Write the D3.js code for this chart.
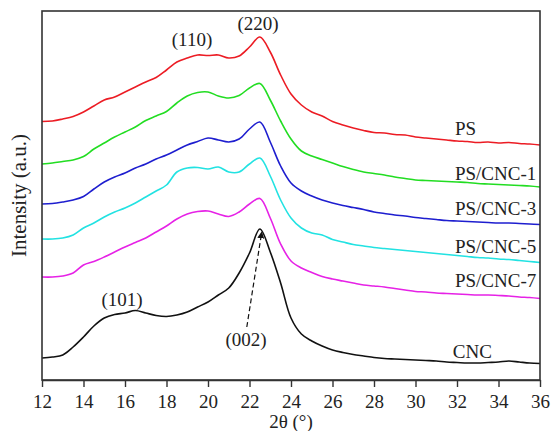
<!DOCTYPE html>
<html>
<head>
<meta charset="utf-8">
<script src="https://cdn.jsdelivr.net/npm/d3@7"></script>
<style>
  html, body { margin: 0; padding: 0; background: #fff; }
  svg { display: block; }
  text { font-family: "Liberation Serif", "Times New Roman", serif; fill: #222; }
</style>
</head>
<body>
<svg id="chart" width="553" height="431"></svg>
<script>
// 2θ values (°)
const twoTheta = d3.range(12, 36.001, 0.5);

// Intensities (a.u., stacked/offset as in the figure)
const PS = [258.5, 259, 261, 263.5, 268, 274, 280, 283, 288, 293, 298, 302.5, 310, 318, 322, 325, 324.5, 325, 322, 324, 333, 343, 328, 305, 286, 275, 268, 264, 258.5, 255, 252, 249.5, 247.5, 247, 245.5, 245, 243, 242, 241, 240, 239, 238.5, 237.5, 238, 237, 237.5, 236.5, 236, 235];
const PS_CNC1 = [216, 217, 218.5, 220, 223.5, 231, 237, 243, 248, 253, 259.5, 264, 268.5, 277, 284, 287.5, 288, 284, 282, 284.5, 292, 296.5, 280, 259, 241, 229, 224, 220.5, 217, 213.5, 210.5, 208, 206.5, 205, 203, 201.5, 200, 199.5, 199, 198.5, 198, 197.5, 196.5, 196, 195.5, 195, 194.5, 194, 193];
const PS_CNC3 = [176, 176.5, 178, 180, 183.5, 191, 198, 203, 207, 212, 216, 221, 225, 230, 235, 238.5, 242, 240, 238, 241, 251, 258, 238, 214, 197, 189, 184, 180, 177, 174.5, 172.5, 170.5, 168, 166.5, 165, 164, 162.5, 161.5, 160.5, 159.5, 159, 158.5, 158, 157.5, 157, 157, 156.5, 156, 155.5];
const PS_CNC5 = [141, 141, 142, 145, 152, 157, 163, 168, 172, 177, 183, 189, 195, 208, 212, 212.5, 211, 213, 208, 208, 216, 222, 204, 180, 162, 152, 147, 145, 140.5, 138, 135.5, 134, 132.5, 131.5, 130.5, 129.5, 128.5, 127.5, 126.5, 125.5, 124.5, 123.5, 122.5, 122, 121, 120.5, 119.5, 118.5, 117.5];
const PS_CNC7 = [103, 103, 104, 107, 115, 118.5, 123, 128, 133, 137.5, 142, 148, 154, 161, 166, 168.5, 169, 166, 163.5, 168, 176, 181.5, 162, 136, 119, 112, 107.5, 103.5, 101, 99, 97, 95, 94, 93, 91.5, 90, 88.5, 88, 87, 86.5, 86, 85.5, 85, 85, 84.5, 84, 83, 82.5, 81.5];
const CNC = [22, 23, 25, 33, 43, 54, 62, 65.5, 67, 69.5, 67, 64.5, 63.5, 65, 68, 73, 78, 85, 92, 107, 127, 151, 128, 97, 62, 46, 39, 34, 30, 27.5, 25.5, 24, 22.5, 21.5, 21, 20.5, 20, 19.5, 19, 18, 17.5, 17, 17, 17.5, 18, 19, 18, 17, 16.5];

const seriesNames = ["PS", "PS/CNC-1", "PS/CNC-3", "PS/CNC-5", "PS/CNC-7", "CNC"];
const seriesValues = [PS, PS_CNC1, PS_CNC3, PS_CNC5, PS_CNC7, CNC];
const seriesColors = ["#ec1c24", "#22dd22", "#1e1ecf", "#22e2e2", "#e622e6", "#111111"];

// series label anchor (2θ, intensity)
const labelX = [31.9, 31.9, 31.9, 31.9, 31.9, 31.8];
const labelY = [245, 200, 165, 127, 93, 22];

const xTicks = d3.range(12, 36.001, 2);

// peak annotations
const peakLabels = ["(110)", "(220)", "(101)", "(002)"];
const peakX = [19.23, 22.41, 15.86, 21.83];
const peakY = [334, 350, 74, 34];
// dashed arrow (from, to)
const arrowFrom = [21.87, 53];
const arrowTo = [22.59, 148];

const margin = {left: 42, top: 11, right: 13, bottom: 51};
const W = 553, H = 431;
const svg = d3.select("#chart");

const x = d3.scaleLinear().domain([12, 36]).range([margin.left, W - margin.right]);
const y = d3.scaleLinear().domain([0, 369]).range([H - margin.bottom, margin.top]);

// curves
const line = d3.line()
  .x(d => x(d[0]))
  .y(d => y(d[1]))
  .curve(d3.curveCatmullRom.alpha(0.5));

seriesValues.forEach((vals, i) => {
  svg.append("path")
    .datum(twoTheta.map((t, j) => [t, vals[j]]))
    .attr("fill", "none")
    .attr("stroke", seriesColors[i])
    .attr("stroke-width", 1.6)
    .attr("stroke-linejoin", "round")
    .attr("d", line);
});

// frame
svg.append("rect")
  .attr("x", x(12)).attr("y", y(369))
  .attr("width", x(36) - x(12)).attr("height", y(0) - y(369))
  .attr("fill", "none").attr("stroke", "#333").attr("stroke-width", 1.6);

// x axis
const xAxis = svg.append("g")
  .attr("transform", `translate(0,${y(0)})`)
  .call(d3.axisBottom(x).tickValues(xTicks).tickFormat(d3.format("d")).tickSize(7).tickSizeOuter(0).tickPadding(8));
xAxis.select(".domain").attr("stroke", "#333").attr("stroke-width", 1.6);
xAxis.selectAll(".tick line").attr("stroke", "#333").attr("stroke-width", 1.4);
xAxis.selectAll(".tick text")
  .style("font-family", '"Liberation Serif", "Times New Roman", serif')
  .style("font-size", "19px").attr("fill", "#222");

// axis titles
svg.append("text")
  .attr("x", (x(12) + x(36)) / 2).attr("y", 428)
  .attr("text-anchor", "middle").style("font-size", "19px")
  .text("2θ (°)");
svg.append("text")
  .attr("transform", `translate(26,${(y(0) + y(369)) / 2}) rotate(-90)`)
  .attr("text-anchor", "middle").style("font-size", "21px")
  .text("Intensity (a.u.)");

// series labels
seriesNames.forEach((n, i) => {
  svg.append("text")
    .attr("x", x(labelX[i])).attr("y", y(labelY[i]))
    .style("font-size", "19px")
    .text(n);
});

// peak labels
peakLabels.forEach((p, i) => {
  svg.append("text")
    .attr("x", x(peakX[i])).attr("y", y(peakY[i]))
    .attr("text-anchor", "middle")
    .style("font-size", "19px")
    .text(p);
});

// dashed arrow
svg.append("defs").append("marker")
  .attr("id", "arrowhead")
  .attr("viewBox", "0 0 10 10")
  .attr("refX", 9).attr("refY", 5)
  .attr("markerWidth", 7).attr("markerHeight", 7)
  .attr("markerUnits", "userSpaceOnUse")
  .attr("orient", "auto")
  .append("path").attr("d", "M0,0 L10,5 L0,10 Z").attr("fill", "#111");

svg.append("line")
  .attr("x1", x(arrowFrom[0])).attr("y1", y(arrowFrom[1]))
  .attr("x2", x(arrowTo[0])).attr("y2", y(arrowTo[1]))
  .attr("stroke", "#111").attr("stroke-width", 1.2)
  .attr("stroke-dasharray", "5,3")
  .attr("marker-end", "url(#arrowhead)");
</script>
</body>
</html>
